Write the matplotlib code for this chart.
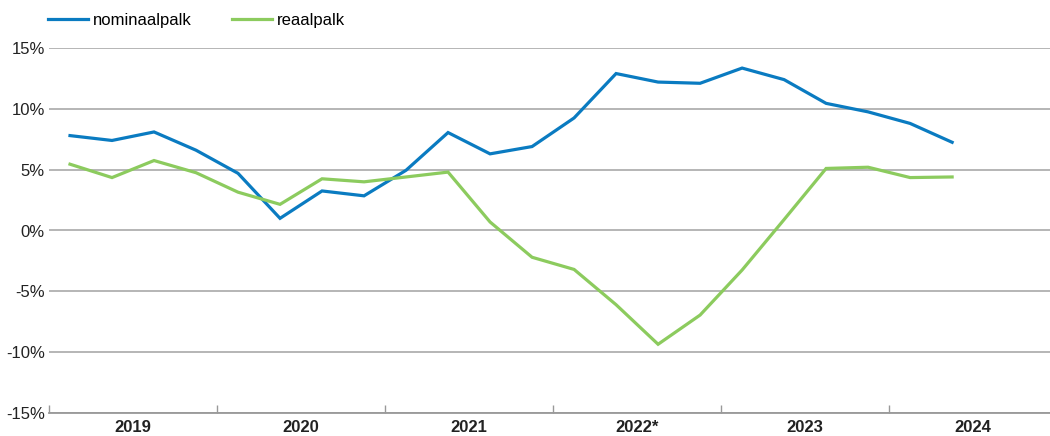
import numpy as np
import matplotlib
matplotlib.use("Agg")
import matplotlib.pyplot as plt

plt.rcParams['font.family'] = ['Liberation Sans', 'DejaVu Sans']

years = ['2019', '2020', '2021', '2022*', '2023', '2024']
# quarterly values, 2019 Q1 .. 2024 Q2
nominal = [7.8, 7.4, 8.1, 6.6, 4.7, 1.0, 3.25, 2.85,
           4.95, 8.05, 6.3, 6.9, 9.25, 12.9, 12.2, 12.1,
           13.35, 12.4, 10.45, 9.75, 8.8, 7.25]
real = [5.45, 4.35, 5.75, 4.75, 3.15, 2.15, 4.25, 4.0,
        4.4, 4.8, 0.7, -2.2, -3.2, -6.1, -9.35, -6.95,
        -3.25, 0.9, 5.1, 5.2, 4.35, 4.4]
series_names = ['nominaalpalk', 'reaalpalk']
colors = ['#0a7bc1', '#8ccb5e']

fig = plt.figure(figsize=(10.5, 4.36), dpi=100)
ax = fig.add_axes([49 / 1050, 23 / 436, 1 - 49 / 1050, 365 / 436])

x = np.arange(len(nominal))
ax.plot(x, nominal, color=colors[0], lw=2.3, label=series_names[0], solid_joinstyle='miter')
ax.plot(x, real, color=colors[1], lw=2.3, label=series_names[1], solid_joinstyle='miter')

ax.set_ylim(-15, 15)
ax.set_xlim(-0.5, 23.33)
yt = np.arange(-15, 16, 5)
ax.set_yticks(yt)
ax.set_yticklabels(['%d%%' % v for v in yt], fontsize=12, color='#222222')
ax.yaxis.grid(True, color='#b0b0b0', lw=1.3)
ax.set_axisbelow(True)
ax.tick_params(axis='y', length=0, pad=3)

# year boundaries as ticks, year names in the middle
bounds = [i * 4 - 0.5 for i in range(len(years))]
ax.set_xticks(bounds)
ax.set_xticklabels([])
ax.tick_params(axis='x', direction='in', length=6, color='#999999', width=1)
ax.set_xticks([i * 4 + 1.5 for i in range(len(years))], minor=True)
ax.set_xticklabels(years, minor=True, fontsize=12, fontweight='bold', color='#222222')
ax.tick_params(axis='x', which='minor', length=0, pad=5)

for s in ['top', 'right', 'left']:
    ax.spines[s].set_visible(False)
ax.spines['bottom'].set_color('#999999')
ax.spines['bottom'].set_linewidth(1.3)

fig.legend(loc='center left', bbox_to_anchor=(0.031, 0.954), ncol=2, frameon=False,
           fontsize=12, handlelength=2.4, handletextpad=0.3, columnspacing=2.45)

fig.savefig('out.png', dpi=100)
